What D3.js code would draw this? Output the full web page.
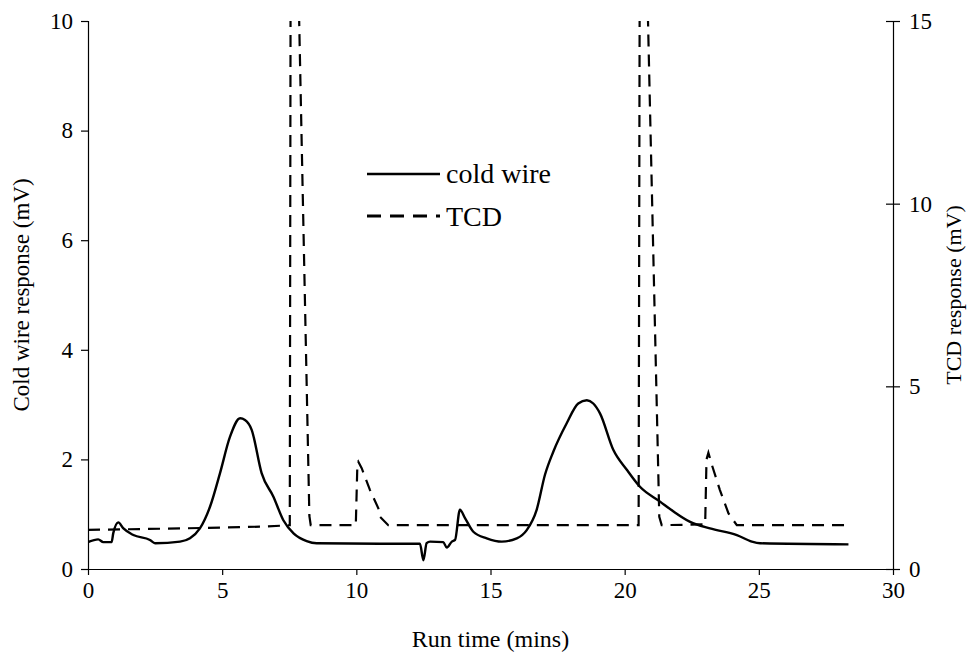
<!DOCTYPE html>
<html>
<head>
<meta charset="utf-8">
<script src="https://cdn.jsdelivr.net/npm/d3@7"></script>
<style>
  html, body { margin: 0; padding: 0; background: #fff; }
</style>
</head>
<body>
<svg id="chart" width="968" height="654"></svg>
<script>
// ---- data ----
const xTicks = [0, 5, 10, 15, 20, 25, 30];
const leftTicks = [0, 2, 4, 6, 8, 10];
const rightTicks = [0, 5, 10, 15];

const coldWireTime = [0, 0.38, 0.57, 0.88, 0.94, 1.13, 1.32, 1.69, 2.31, 2.5, 3.43, 3.8, 4.17, 4.55, 4.92, 5.29, 5.67, 5.85, 6.1, 6.47, 6.91, 7.28, 7.66, 8.15, 8.52, 10.88, 12.37, 12.5, 12.62, 12.75, 13.24, 13.37, 13.56, 13.68, 13.86, 14.05, 14.36, 14.86, 15.42, 15.98, 16.35, 16.72, 17.03, 17.34, 17.84, 18.27, 18.59, 18.83, 19.08, 19.58, 20.08, 20.57, 21.32, 21.82, 22.44, 23.18, 24.18, 24.74, 25.05, 28.34];
const coldWire = [0.49, 0.54, 0.49, 0.49, 0.65, 0.85, 0.74, 0.62, 0.53, 0.47, 0.5, 0.56, 0.74, 1.14, 1.75, 2.41, 2.75, 2.72, 2.54, 1.75, 1.32, 0.89, 0.65, 0.51, 0.47, 0.46, 0.46, 0.16, 0.47, 0.5, 0.49, 0.39, 0.5, 0.53, 1.08, 0.93, 0.68, 0.56, 0.5, 0.56, 0.71, 1.08, 1.72, 2.14, 2.66, 3.02, 3.08, 3.02, 2.84, 2.17, 1.81, 1.5, 1.23, 1.05, 0.86, 0.74, 0.62, 0.5, 0.47, 0.45];

const tcdTime = [0, 3.43, 6.5, 7.3, 7.52, 7.55, 7.84, 7.87, 8.25, 8.3, 9.98, 10.04, 10.07, 10.2, 10.51, 10.82, 10.88, 11.19, 20.52, 20.56, 20.84, 20.87, 21.29, 21.38, 23.0, 23.05, 23.12, 23.25, 23.55, 23.87, 24.18, 28.34];
const tcd = [1.07, 1.11, 1.16, 1.19, 1.2, 16, 16, 15, 1.45, 1.2, 1.2, 2.9, 2.94, 2.76, 2.16, 1.66, 1.43, 1.2, 1.2, 16, 16, 15, 1.43, 1.2, 1.22, 3.0, 3.18, 2.85, 2.16, 1.52, 1.2, 1.2];

const xTitle = "Run time (mins)";
const leftTitle = "Cold wire response (mV)";
const rightTitle = "TCD response (mV)";
const legendLabels = ["cold wire", "TCD"];

// ---- layout ----
const FONT = "'Liberation Serif', 'Times New Roman', Times, 'DejaVu Serif', serif";
const svg = d3.select("#chart");
const pL = 88, pR = 893, pT = 21, pB = 569;

const x = d3.scaleLinear().domain([0, 30]).range([pL, pR]);
const yL = d3.scaleLinear().domain([0, 10]).range([pB, pT]);
const yR = d3.scaleLinear().domain([0, 15]).range([pB, pT]);

svg.append("defs").append("clipPath").attr("id", "plotClip")
  .append("rect").attr("x", pL).attr("y", pT).attr("width", pR - pL).attr("height", pB - pT);

const tickFont = 23;

const xAxis = svg.append("g").attr("transform", `translate(0,${pB})`)
  .call(d3.axisBottom(x).tickValues(xTicks).tickSize(6).tickPadding(7).tickFormat(d3.format("d")));
const lAxis = svg.append("g").attr("transform", `translate(${pL},0)`)
  .call(d3.axisLeft(yL).tickValues(leftTicks).tickSize(7).tickPadding(8).tickFormat(d3.format("d")));
const rAxis = svg.append("g").attr("transform", `translate(${pR},0)`)
  .call(d3.axisRight(yR).tickValues(rightTicks).tickSize(7).tickPadding(9).tickFormat(d3.format("d")));
rAxis.selectAll(".tick line").attr("x1", -7);

[xAxis, lAxis, rAxis].forEach(g => {
  g.attr("font-family", null).attr("font-size", null);
  g.select(".domain").attr("stroke", "#000").attr("stroke-width", 1.2);
  g.selectAll(".tick line").attr("stroke", "#000").attr("stroke-width", 1.2);
  g.selectAll(".tick text").style("font-size", tickFont + "px").style("font-family", FONT).attr("fill", "#000");
});
xAxis.select(".domain").attr("d", `M${pL},0.5H${pR}`);
lAxis.select(".domain").attr("d", `M0.5,${pB}V${pT}`);
rAxis.select(".domain").attr("d", `M0.5,${pB}V${pT}`);

function label(sel, size) { return sel.style("font-family", FONT).style("font-size", size + "px").attr("fill", "#000"); }

label(svg.append("text").attr("x", (pL + pR) / 2).attr("y", 647)
  .attr("text-anchor", "middle"), 24).text(xTitle);
label(svg.append("text").attr("transform", `translate(29,${(pT + pB) / 2}) rotate(-90)`)
  .attr("text-anchor", "middle"), 23).text(leftTitle);
label(svg.append("text").attr("transform", `translate(961,${(pT + pB) / 2}) rotate(-90)`)
  .attr("text-anchor", "middle"), 22).text(rightTitle);

const plot = svg.append("g").attr("clip-path", "url(#plotClip)");
const cwLine = d3.line().x((d, i) => x(coldWireTime[i])).y(d => yL(d)).curve(d3.curveMonotoneX);
const tcdLine = d3.line().x((d, i) => x(tcdTime[i])).y(d => yR(d));

plot.append("path").datum(tcd).attr("d", tcdLine)
  .attr("fill", "none").attr("stroke", "#000").attr("stroke-width", 2.2)
  .attr("stroke-dasharray", "12,8");
plot.append("path").datum(coldWire).attr("d", cwLine)
  .attr("fill", "none").attr("stroke", "#000").attr("stroke-width", 2.4);

const lg = svg.append("g");
lg.append("line").attr("x1", 367).attr("x2", 440).attr("y1", 174).attr("y2", 174)
  .attr("stroke", "#000").attr("stroke-width", 2.4);
lg.append("line").attr("x1", 367).attr("x2", 440).attr("y1", 216).attr("y2", 216)
  .attr("stroke", "#000").attr("stroke-width", 3).attr("stroke-dasharray", "14,9");
label(lg.append("text").attr("x", 446).attr("y", 183), 28).text(legendLabels[0]);
label(lg.append("text").attr("x", 446).attr("y", 226), 28).text(legendLabels[1]);
</script>
</body>
</html>
